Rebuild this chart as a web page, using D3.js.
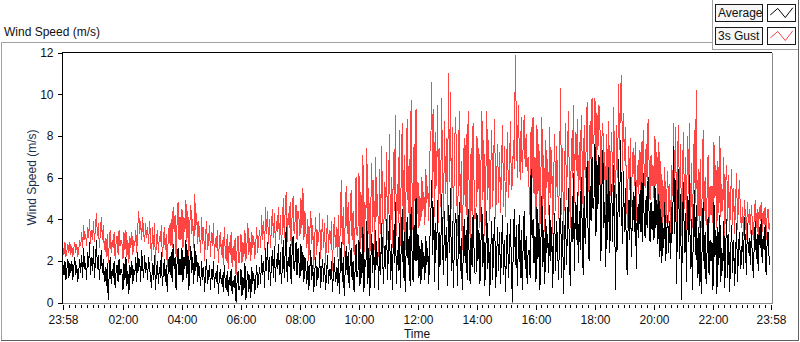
<!DOCTYPE html>
<html>
<head>
<meta charset="utf-8">
<script src="https://cdn.jsdelivr.net/npm/d3@7"></script>
<style>
  body { margin: 0; background: #fff; }
  svg { display: block; font-family: "Liberation Sans", Arial, sans-serif; }
</style>
</head>
<body>
<svg id="chart" width="800" height="342"></svg>
<script>
// one sample every 2 minutes, starting 23:58 (60 samples per 2-hour row)
const startTime = new Date(2000, 0, 1, 23, 58);
const sampleMinutes = 2;
const seriesNames = ["Average", "3s Gust"];

const avgSpeed = [
  1.8,1.3,2.0,1.1,1.6,2.1,1.2,1.9,1.4,2.0,1.1,1.7,2.2,1.3,1.8,1.0,1.5,2.1,
  1.4,2.3,1.2,2.6,1.6,1.9,1.1,2.4,1.7,2.9,1.3,2.2,1.5,2.7,1.2,2.0,3.0,1.6,2.3,1.1,1.9,2.5,1.4,2.1,
  1.0,1.7,0.8,1.9,0.1,1.4,2.2,0.9,1.6,1.2,2.0,0.7,1.5,1.8,1.0,2.1,1.3,1.6,

  1.4,0.6,1.9,1.1,2.2,0.8,1.5,0.4,1.8,1.2,2.0,0.9,1.6,1.3,2.2,1.0,
  2.4,1.5,2.1,1.0,2.5,1.7,1.2,2.3,1.4,1.9,1.1,2.2,1.6,1.3,
  0.7,1.9,1.1,2.3,0.6,1.5,2.0,0.9,1.7,1.2,2.4,0.8,1.4,2.1,1.0,1.8,0.5,1.6,2.2,1.3,
  2.4,1.0,2.8,1.6,2.2,0.6,1.9,2.6,1.3,2.1,

  1.3,2.6,1.0,2.2,1.6,3.0,1.2,2.5,0.6,1.9,2.7,1.4,2.2,0.9,2.8,1.5,2.3,1.0,1.9,1.4,
  0.8,2.0,1.1,1.7,0.5,1.5,2.1,0.9,1.3,1.8,0.6,1.6,1.1,2.0,0.7,1.4,1.0,1.8,0.4,1.2,
  1.6,0.9,1.3,0.5,1.8,1.0,0.6,1.5,0.3,1.2,0.8,1.6,0.4,1.1,0.7,1.3,0.0,1.0,1.5,0.6,

  0.8,1.6,0.3,1.2,0.6,1.9,0.1,1.0,1.5,0.5,1.3,0.2,1.7,0.9,1.4,0.4,1.1,1.8,0.7,1.2,
  1.7,0.9,2.3,1.3,2.0,0.7,2.6,1.5,2.9,1.1,2.2,0.8,1.9,2.5,1.2,2.7,1.0,2.1,1.6,2.8,1.3,2.4,0.9,
  1.6,3.0,1.2,2.5,3.6,1.0,2.2,1.7,2.8,0.9,2.4,3.2,1.5,2.0,2.9,1.3,2.6,

  1.9,1.2,2.8,1.5,2.4,1.0,2.2,1.6,
  0.9,2.0,0.6,1.6,2.5,1.1,1.8,0.5,1.4,2.2,0.8,1.7,1.2,2.4,0.7,1.5,2.1,1.0,1.9,0.6,1.3,2.3,0.9,1.6,1.1,2.0,0.5,1.4,2.2,1.0,1.7,0.8,
  2.1,0.4,1.8,2.9,1.0,2.2,0.3,1.6,2.7,1.3,2.4,0.7,1.9,2.6,1.1,2.0,0.5,1.5,2.8,1.2,

  1.5,3.0,0.8,2.4,1.2,3.6,0.5,2.1,1.7,3.9,0.9,2.6,0.3,2.0,3.3,1.4,2.8,0.7,3.5,1.8,2.4,0.6,3.1,1.3,3.8,2.2,0.9,2.7,1.6,4.0,1.1,2.5,
  4.2,1.1,2.8,0.6,3.5,1.9,4.8,0.9,2.5,1.5,3.8,0.7,2.9,4.5,1.2,3.4,0.5,2.6,4.1,1.8,3.2,0.8,4.6,2.3,1.0,3.7,2.0,5.0,

  2.0,3.3,1.2,2.7,0.9,3.0,1.6,2.4,1.1,3.2,1.8,2.6,0.9,2.9,
  4.1,5.9,2.3,4.6,1.0,3.8,2.5,4.9,0.6,3.4,1.8,5.2,2.7,1.3,4.4,2.0,3.6,0.8,4.7,2.4,5.5,1.5,3.9,0.7,2.8,4.3,
  3.9,0.8,2.6,4.8,1.5,3.1,0.6,2.2,4.0,1.9,3.5,1.1,4.5,2.3,0.9,3.3,1.7,4.2,2.6,1.4,

  1.4,4.3,2.0,3.5,0.9,2.8,4.6,1.7,3.3,0.8,2.5,
  4.4,1.6,3.1,0.3,2.4,3.9,1.1,2.9,4.1,0.7,2.2,3.6,1.5,3.4,0.9,2.7,4.2,1.3,3.0,0.5,2.6,3.8,1.2,2.3,4.0,1.8,
  0.0,3.0,4.5,1.8,3.7,0.8,2.6,4.2,1.2,3.5,0.6,2.9,4.4,1.6,3.2,0.9,2.4,
  2.5,1.2,6.4,3.1,4.0,1.9,

  3.2,1.0,4.6,2.1,3.8,0.6,2.9,5.1,1.7,3.5,0.9,4.0,2.4,3.3,1.4,4.7,2.0,3.6,0.7,2.8,4.3,1.5,3.9,2.6,1.1,
  3.3,5.0,1.2,3.9,0.4,2.7,4.6,1.8,3.4,5.5,2.2,0.8,4.1,2.9,6.2,1.5,4.8,3.0,5.3,1.9,4.4,2.5,6.0,3.6,1.3,5.1,2.8,4.2,6.8,3.3,
  2.0,5.6,3.9,7.0,4.5,

  5.0,7.6,3.2,6.8,4.5,7.1,
  6.1,2.0,5.4,7.3,3.6,4.8,1.7,5.9,3.0,6.5,2.4,4.4,5.7,2.9,
  6.6,3.9,0.6,5.2,2.5,6.9,4.1,7.8,4.5,2.8,6.3,3.4,5.5,1.9,
  1.3,4.9,3.0,6.0,2.2,4.1,5.3,3.4,5.8,1.6,4.6,3.1,5.2,
  3.4,5.8,2.9,6.2,4.0,3.1,5.1,3.6,6.0,4.3,2.9,4.8,3.5,

  4.4,3.0,5.6,3.6,4.9,2.8,5.2,
  2.2,4.5,1.9,3.8,2.6,4.8,2.0,3.4,4.2,2.4,3.9,2.1,4.6,
  3.3,7.5,3.3,5.9,0.9,4.6,6.4,2.1,5.2,0.1,3.7,5.8,2.4,4.3,1.0,5.1,2.9,6.1,1.6,4.0,0.6,3.2,5.4,2.3,4.7,1.2,3.6,
  0.8,3.9,0.4,2.8,4.8,1.6,3.4,0.9,2.5,4.1,1.3,3.0,2.0,

  2.9,0.6,4.8,2.2,3.5,0.4,3.6,1.8,4.2,1.0,2.6,
  1.5,3.9,0.7,2.8,4.0,1.2,3.3,0.5,2.5,3.7,1.4,3.0,0.8,2.2,3.8,1.0,2.7,3.4,1.6,
  2.0,3.4,1.6,4.1,2.7,1.3,3.8,2.4,3.1,1.8,3.5,2.2,1.2,2.9,3.9,2.1,3.3,1.5,3.6,2.6,4.0,1.9,3.2,2.5,3.7,1.3,2.8,3.4,2.2,1.8
];

const gustSpeed = [
  2.6,2.3,2.9,2.2,2.5,2.8,2.4,2.9,2.3,2.7,2.2,2.6,2.9,2.4,2.8,2.2,2.5,3.0,
  2.7,3.4,2.6,3.7,3.0,3.3,2.7,3.6,3.1,4.0,2.8,3.5,3.0,3.9,2.9,3.6,4.3,3.2,3.8,2.6,3.4,4.1,3.0,3.7,
  2.5,3.1,2.2,3.3,1.9,2.8,3.5,2.4,3.0,2.6,3.4,2.1,2.9,3.2,2.3,3.5,2.7,3.0,

  2.8,2.1,3.4,2.5,3.5,2.2,3.0,1.9,3.2,2.6,3.4,2.3,3.0,2.7,3.5,2.4,
  3.6,4.4,3.3,3.9,3.0,4.1,3.3,2.9,3.8,3.1,3.6,2.8,3.9,3.2,
  2.0,3.6,2.5,3.8,1.8,3.0,3.5,2.4,3.2,2.9,3.7,2.2,2.8,3.6,2.5,3.3,1.7,3.1,3.7,2.7,
  4.0,2.6,4.6,3.4,4.2,2.2,3.8,4.8,3.0,4.1,

  3.0,4.5,2.6,4.1,3.4,4.9,2.9,4.4,2.2,3.8,4.7,3.3,4.0,2.6,5.2,3.5,4.3,2.8,3.9,3.2,
  2.4,4.1,2.8,3.6,2.0,3.2,3.9,2.5,3.0,3.7,2.2,3.4,2.7,3.8,2.1,3.1,2.6,3.5,1.9,2.9,
  3.4,2.3,3.0,1.8,3.6,2.4,2.0,3.3,1.6,2.9,2.3,3.4,1.7,2.7,2.0,3.1,1.3,2.5,3.2,1.9,

  2.4,3.3,1.9,2.9,2.2,3.5,2.0,2.7,3.8,2.3,3.1,2.0,3.4,2.6,3.2,2.1,2.8,3.6,2.4,3.0,
  3.5,2.6,4.2,3.0,3.9,2.5,4.6,3.3,4.4,2.8,4.0,2.6,3.7,4.5,3.1,4.3,2.7,3.9,3.4,4.6,3.0,4.2,2.8,
  3.4,5.0,3.1,4.5,5.3,2.9,4.3,3.6,4.8,2.7,4.2,5.1,3.3,3.9,4.7,3.0,4.4,

  4.0,3.2,5.0,3.6,5.5,3.0,4.4,3.4,
  2.6,4.0,2.0,3.4,4.4,2.8,3.7,1.6,3.1,4.1,2.3,3.5,2.9,4.3,2.1,3.2,4.0,2.6,3.8,1.8,3.0,4.2,2.4,3.5,2.8,3.9,1.5,3.2,4.1,2.6,3.6,2.2,
  4.2,2.0,3.7,5.9,2.8,4.6,2.2,3.9,5.6,3.3,4.8,2.5,4.1,5.4,3.0,4.4,2.3,3.6,6.0,3.2,

  3.6,6.2,2.4,5.3,3.1,7.1,2.1,4.8,4.0,7.4,2.8,5.5,1.9,4.6,6.7,3.4,5.9,2.5,7.0,4.1,5.2,2.2,6.4,3.3,7.5,4.7,2.6,5.8,3.9,7.2,3.0,5.4,
  8.1,3.0,6.0,2.6,7.2,4.4,9.0,3.2,5.7,3.8,8.3,2.7,6.5,8.6,3.5,7.1,2.5,5.9,8.8,4.3,6.9,3.1,9.7,5.4,3.4,7.6,4.8,9.3,

  4.2,5.8,3.6,5.1,3.9,6.0,4.4,5.3,3.7,6.4,4.8,5.6,3.9,7.2,
  7.5,10.6,5.0,9.3,4.1,8.2,5.6,9.5,3.8,7.4,4.6,9.8,6.3,4.0,8.7,5.2,7.9,3.9,11.0,5.8,10.1,4.5,8.4,3.8,6.6,8.9,
  7.7,3.2,5.9,9.2,4.3,6.8,2.5,5.2,7.9,4.6,8.1,3.6,9.2,5.5,3.1,7.4,4.2,8.6,5.8,4.0,

  4.5,8.0,5.3,7.4,3.6,6.6,9.2,4.9,7.8,3.2,6.0,
  9.2,4.9,7.8,3.9,6.3,8.3,4.6,7.0,8.8,4.0,5.9,7.6,4.8,7.2,4.3,6.8,8.5,4.6,7.5,4.1,6.4,8.2,5.0,6.1,8.7,5.4,
  5.7,7.8,6.4,11.9,8.7,6.0,9.5,7.3,5.9,8.9,6.2,7.6,9.0,6.5,8.1,6.3,7.0,
  5.4,4.1,8.4,6.0,8.9,5.2,

  7.0,4.0,8.5,5.2,7.6,3.5,6.2,8.9,4.6,7.1,3.4,7.8,5.5,6.9,4.2,8.4,5.0,7.3,3.3,6.0,8.1,4.4,7.5,5.8,4.0,
  6.6,10.3,4.2,7.4,3.0,5.8,8.6,4.9,6.9,9.2,5.5,3.6,7.9,6.0,9.5,4.8,8.2,6.3,8.8,5.1,7.7,5.4,9.0,6.9,4.3,8.5,6.0,7.4,9.6,6.5,
  5.2,8.7,6.8,9.8,7.6,

  8.0,9.8,5.7,9.1,7.3,9.5,
  8.8,4.2,7.9,8.6,5.6,7.2,3.8,8.1,5.0,8.7,4.4,6.9,8.2,5.3,
  9.4,6.2,5.0,8.5,6.0,10.5,7.3,10.2,10.9,6.3,9.1,6.8,8.4,5.2,
  3.6,7.5,5.4,7.9,4.6,6.8,7.4,5.6,7.7,3.9,6.6,5.2,7.3,
  5.2,7.7,4.8,8.3,6.4,5.5,7.6,5.9,8.8,6.7,4.9,7.1,5.6,

  6.6,5.0,8.0,5.6,7.2,4.6,7.7,
  3.6,6.8,2.5,5.9,4.1,6.5,3.4,5.2,6.3,3.8,5.7,3.3,6.6,
  5.1,8.6,5.1,8.4,3.0,7.2,8.5,4.0,7.6,3.2,6.3,8.2,4.5,7.0,3.4,8.0,5.2,8.6,3.9,6.7,3.6,5.9,8.3,4.8,10.2,3.9,6.4,
  3.6,6.9,3.6,5.2,8.3,4.4,6.0,3.7,5.1,7.1,3.8,5.6,4.2,

  5.6,3.8,7.7,5.0,6.6,3.6,6.8,4.3,8.0,4.1,5.7,
  4.4,7.0,3.2,5.8,6.6,3.9,6.1,3.4,5.2,6.4,3.7,5.5,3.3,4.9,6.2,3.5,5.0,5.9,4.0,
  3.6,4.6,3.2,4.9,4.2,3.0,4.8,3.8,4.5,3.3,4.7,3.9,3.0,4.2,4.9,3.6,4.5,3.1,4.6,3.9,4.8,3.4,4.4,3.7,4.6,3.0,4.1,4.5,3.5,3.8
];

const yTicks = [0, 2, 4, 6, 8, 10, 12];
const xTickLabels = ["23:58", "02:00", "04:00", "06:00", "08:00", "10:00", "12:00",
                     "14:00", "16:00", "18:00", "20:00", "22:00", "23:58"];

const plot = { left: 63, right: 771, top: 52.5, bottom: 302.5 };
const svg = d3.select("#chart");

const endTime = d3.timeDay.offset(startTime, 1);
const x = d3.scaleTime().domain([startTime, endTime]).range([plot.left, plot.right]);
const y = d3.scaleLinear().domain([0, 12]).range([plot.bottom, plot.top]);

// tick label "HH:MM" -> date (first one is the start day, the rest the next day)
const majorTimes = xTickLabels.map((s, i) => {
  const [h, m] = s.split(":").map(Number);
  return new Date(2000, 0, i === 0 ? 1 : 2, h, m);
});
const minorTimes = d3.range(1, 120)
  .map(k => d3.timeMinute.offset(startTime, k * 12))
  .filter(t => majorTimes.every(mt => Math.abs(mt - t) > 5 * 60000));

const t = i => d3.timeMinute.offset(startTime, i * sampleMinutes);

// outer panel frame
const frame = svg.append("g").attr("fill", "none").attr("shape-rendering", "crispEdges");
frame.append("path").attr("stroke", "#a0a0a0").attr("d", "M1.5,341V42.5H712.5V49.5H799");
frame.append("path").attr("stroke", "#606060").attr("d", "M798.5,0V340.5H1");
frame.append("path").attr("stroke", "#a0a0a0").attr("d", "M712.5,0V42.5");

svg.append("text").attr("x", 4).attr("y", 36).attr("font-size", 12).attr("fill", "#111")
  .text("Wind Speed (m/s)");

// plot area
svg.append("rect").attr("x", plot.left).attr("y", plot.top)
  .attr("width", plot.right - plot.left).attr("height", plot.bottom - plot.top).attr("fill", "#fff");

svg.append("clipPath").attr("id", "clip").append("rect")
  .attr("x", plot.left).attr("y", plot.top - 1)
  .attr("width", plot.right - plot.left).attr("height", plot.bottom - plot.top + 1);

const line = d3.line().x((d, i) => x(t(i))).y(d => y(d));

const lines = svg.append("g").attr("clip-path", "url(#clip)")
  .attr("fill", "none").attr("stroke-width", 1).attr("shape-rendering", "crispEdges");
lines.append("path").datum(gustSpeed).attr("stroke", "#ff4444").attr("d", line);
lines.append("path").datum(avgSpeed).attr("stroke", "#000").attr("d", line);

// plot border: dark top/left, grey bottom/right
svg.append("path").attr("fill", "none").attr("stroke", "#000").attr("shape-rendering", "crispEdges")
  .attr("d", `M${plot.left - 0.5},${plot.bottom}V${plot.top}H${plot.right + 1}`);
svg.append("path").attr("fill", "none").attr("stroke", "#8a8a8a").attr("shape-rendering", "crispEdges")
  .attr("d", `M${plot.left},${plot.bottom + 0.5}H${plot.right + 1.5}V${plot.top}`);

// y axis
const yAxis = svg.append("g").attr("transform", `translate(${plot.left - 0.5},0)`)
  .call(d3.axisLeft(y).tickValues(yTicks).tickSize(5).tickPadding(4).tickFormat(d3.format("d")));
yAxis.select(".domain").remove();
yAxis.selectAll("text").attr("font-size", 12).attr("font-family", "Liberation Sans, Arial, sans-serif").attr("fill", "#111");
yAxis.selectAll("line").attr("stroke", "#000").attr("shape-rendering", "crispEdges");

svg.append("text")
  .attr("transform", `translate(36,${(plot.top + plot.bottom) / 2}) rotate(-90)`)
  .attr("text-anchor", "middle").attr("font-size", 12).attr("fill", "#1d2e4c")
  .text("Wind Speed (m/s)");

// x axis: minor ticks then major ticks with labels
const xMinor = svg.append("g").attr("transform", `translate(0,${plot.bottom + 2.5})`)
  .call(d3.axisBottom(x).tickValues(minorTimes).tickSize(3).tickFormat(""));
xMinor.select(".domain").remove();
xMinor.selectAll("line").attr("stroke", "#000").attr("shape-rendering", "crispEdges");

const xAxis = svg.append("g").attr("transform", `translate(0,${plot.bottom + 2.5})`)
  .call(d3.axisBottom(x).tickValues(majorTimes).tickSize(5).tickPadding(5)
    .tickFormat((d, i) => xTickLabels[i]));
xAxis.select(".domain").remove();
xAxis.selectAll("line").attr("stroke", "#000").attr("shape-rendering", "crispEdges");
xAxis.selectAll("text").attr("font-size", 12).attr("font-family", "Liberation Sans, Arial, sans-serif").attr("fill", "#111");

svg.append("text").attr("x", (plot.left + plot.right) / 2).attr("y", 338)
  .attr("text-anchor", "middle").attr("font-size", 12).attr("fill", "#111").text("Time");

// legend
const legendColors = ["#000", "#ff4444"];
const legend = svg.append("g").attr("shape-rendering", "crispEdges");
seriesNames.forEach((name, i) => {
  const top = 4.5 + i * 23;
  legend.append("rect").attr("x", 715.5).attr("y", top).attr("width", 47).attr("height", 17)
    .attr("fill", "#f6f6f6").attr("stroke", "#1a1a1a");
  legend.append("text").attr("x", 718).attr("y", top + 12.8).attr("font-size", 12)
    .attr("fill", "#111").text(name);
  legend.append("rect").attr("x", 767.5).attr("y", top).attr("width", 28).attr("height", 17)
    .attr("fill", "#fff").attr("stroke", "#1a1a1a");
  const ix = d3.scaleLinear().range([769, 794]);
  const iy = d3.scaleLinear().range([top + 15, top + 2]);
  legend.append("path").attr("fill", "none").attr("stroke", legendColors[i])
    .attr("shape-rendering", "auto")
    .attr("d", d3.line().x(p => ix(p[0])).y(p => iy(p[1]))([[0.05, 0.35], [0.35, 0.85], [0.65, 0.15], [0.95, 0.9]]));
});
</script>
</body>
</html>
